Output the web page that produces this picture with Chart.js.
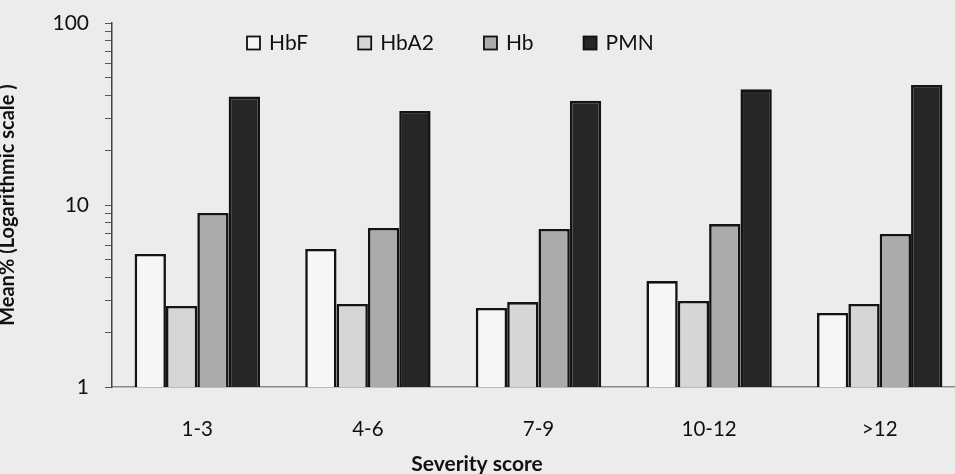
<!DOCTYPE html>
<html>
<head>
<meta charset="utf-8">
<script src="https://cdn.jsdelivr.net/npm/chart.js@4"></script>
<style>
    html, body { margin: 0; padding: 0; background: #ececec; overflow: hidden; }
    #wrap { position: relative; width: 966px; height: 474px; }
</style>
</head>
<body>
<div id="wrap"><canvas id="myChart"></canvas></div>
<script>
    var categories = ['1-3', '4-6', '7-9', '10-12', '>12'];
    var hbf = [5.38, 5.73, 2.72, 3.82, 2.55];
    var hba2 = [2.79, 2.86, 2.93, 2.97, 2.86];
    var hb = [9.04, 7.48, 7.38, 7.86, 6.93];
    var pmn = [39.4, 32.8, 37.4, 43.2, 45.6];
    var yTicks = [1, 2, 3, 4, 5, 6, 7, 8, 9, 10, 20, 30, 40, 50, 60, 70, 80, 90, 100];
    var xTitle = 'Severity score';
    var yTitle = 'Mean% (Logarithmic scale )';

    var FONT = 'Lato, "Open Sans", sans-serif';

    // background of the scanned page
    var background = {
        id: 'background',
        beforeDraw: function (chart) {
            var ctx = chart.ctx;
            ctx.save();
            ctx.fillStyle = '#ececec';
            ctx.fillRect(0, 0, chart.width, chart.height);
            ctx.restore();
        }
    };

    // legend inside the plot, one row, plus the x title centred on the page
    var extras = {
        id: 'extras',
        afterDraw: function (chart) {
            var ctx = chart.ctx;
            var x = 247, y = 43;
            ctx.save();
            ctx.font = '21px ' + FONT;
            ctx.textBaseline = 'middle';
            chart.data.datasets.forEach(function (ds) {
                ctx.fillStyle = ds.backgroundColor;
                ctx.fillRect(x, y - 6.5, 13, 13);
                ctx.strokeStyle = '#111';
                ctx.lineWidth = 1.8;
                ctx.strokeRect(x, y - 6.5, 13, 13);
                ctx.fillStyle = '#111';
                ctx.fillText(ds.label, x + 22, y);
                x += 22 + ctx.measureText(ds.label).width + 50;
            });

            ctx.font = 'bold 21px ' + FONT;
            ctx.textAlign = 'center';
            ctx.fillText(xTitle, 477, 464);
            ctx.restore();
        }
    };

    function dataset(label, data, color) {
        return {
            label: label,
            data: data,
            backgroundColor: color,
            borderColor: '#141414',
            borderWidth: 2.6,
            borderSkipped: 'bottom',
            categoryPercentage: 0.735,
            barPercentage: 1.0
        };
    }

    var chart = new Chart(document.getElementById('myChart'), {
        type: 'bar',
        data: {
            labels: categories,
            datasets: [
                dataset('HbF', hbf, '#f6f6f6'),
                dataset('HbA2', hba2, '#d6d6d6'),
                dataset('Hb', hb, '#ababab'),
                dataset('PMN', pmn, '#262626')
            ]
        },
        plugins: [background, extras],
        options: {
            responsive: true,
            maintainAspectRatio: false,
            animation: false,
            layout: { padding: { top: 23, right: 1, left: 0, bottom: 0 } },
            plugins: {
                legend: { display: false },
                tooltip: { enabled: false }
            },
            scales: {
                x: {
                    grid: { display: false, drawTicks: false },
                    border: { display: true, color: '#8a8a8a', width: 1.5 },
                    ticks: {
                        color: '#111',
                        padding: 30,
                        font: { family: FONT, size: 20.5 }
                    },
                    afterFit: function (scale) {
                        scale.height = 87;
                        scale.paddingLeft = 0;
                        scale.paddingRight = 0;
                    }
                },
                y: {
                    type: 'logarithmic',
                    min: 1,
                    max: 100,
                    grid: {
                        display: true,
                        drawOnChartArea: false,
                        drawTicks: true,
                        tickLength: 7,
                        color: '#555'
                    },
                    border: { display: true, color: '#444', width: 1.5 },
                    ticks: {
                        color: '#111',
                        padding: 16,
                        autoSkip: false,
                        font: { family: FONT, size: 21 },
                        callback: function (value) {
                            return (value === 1 || value === 10 || value === 100) ? String(value) : '';
                        }
                    },
                    afterBuildTicks: function (scale) {
                        scale.ticks = yTicks.map(function (v) { return { value: v }; });
                    },
                    title: {
                        display: true,
                        text: yTitle,
                        color: '#111',
                        padding: 0,
                        font: { family: FONT, size: 20, weight: 'bold', lineHeight: 0.8 }
                    },
                    afterFit: function (scale) {
                        scale.width = 112;
                        scale.paddingTop = 0;
                        scale.paddingBottom = 0;
                    }
                }
            }
        }
    });
</script>
</body>
</html>
